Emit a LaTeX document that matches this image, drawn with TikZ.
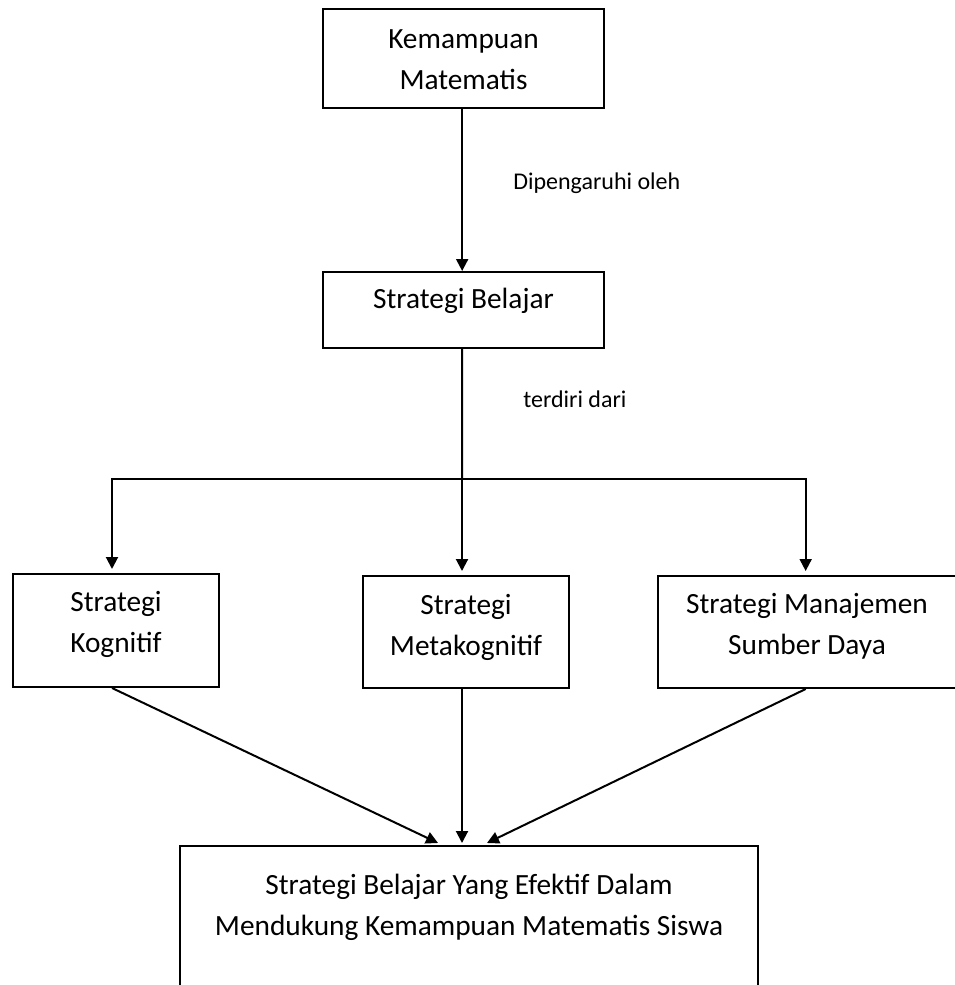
\documentclass[tikz,border=0pt]{standalone}
\usepackage{fontspec}
\setmainfont{Carlito}
\usetikzlibrary{arrows.meta,positioning}

\begin{document}
\begin{tikzpicture}[
    x=0.75pt, y=-0.75pt,
    box/.style={
        rectangle,
        draw=black,
        line width=1.5pt,
        fill=white,
        align=center,
        inner ysep=0pt,
        anchor=north,
        font=\fontsize{22}{30.75}\selectfont
    },
    note/.style={
        anchor=base west,
        inner sep=0pt,
        font=\fontsize{18}{22}\selectfont
    },
    arrow/.style={
        -{Triangle[width=9pt,length=9pt]},
        line width=1.5pt,
        draw=black
    }
]
    \clip (0,0) rectangle (955,985);

    % Nodes
    \node (kemampuan) [box, minimum width=210.75pt, text height=60pt, text depth=14.25pt]
        at (463.5,8) {Kemampuan\\Matematis};
    \node (belajar) [box, minimum width=210.75pt, text height=27pt, text depth=30pt]
        at (463.5,271) {Strategi Belajar};

    \node (kognitif) [box, minimum width=154.5pt, text height=58.5pt, text depth=26.25pt]
        at (116,573) {Strategi\\Kognitif};
    \node (meta) [box, minimum width=154.5pt, text height=59.25pt, text depth=24.75pt]
        at (466,575) {Strategi\\Metakognitif};
    \node (sumber) [box, minimum width=223.5pt, text height=58.5pt, text depth=25.5pt]
        at (807,575) {Strategi Manajemen\\Sumber Daya};

    \node (efektif) [box, minimum width=433.5pt, text height=66.75pt, text depth=49.5pt]
        at (469,845) {Strategi Belajar Yang Efektif Dalam\\Mendukung Kemampuan Matematis Siswa};

    % Labels
    \node (lbl1) [note] at (513,189) {Dipengaruhi oleh};
    \node (lbl2) [note] at (523,407) {terdiri dari};

    \coordinate (split) at (462,479);

    % Arrows
    \draw [arrow] ([xshift=-1pt]kemampuan.south) -- ([xshift=-1pt]belajar.north);
    \draw [line width=1.5pt] ([xshift=-1pt]belajar.south) -- (split);
    \draw [arrow, shorten >=3pt] (split) -| ([xshift=-3pt]kognitif.north);
    \draw [arrow, shorten >=3pt] (split) -- (split |- meta.north);
    \draw [arrow, shorten >=3pt] (split) -| ([xshift=-1pt]sumber.north);

    \draw [arrow] ([xshift=-3pt]kognitif.south) -- ([xshift=-23.25pt, yshift=1.5pt]efektif.north);
    \draw [arrow] ([xshift=-3pt]meta.south) -- ([xshift=-5.25pt, yshift=1.5pt]efektif.north);
    \draw [arrow] ([xshift=-1pt]sumber.south) -- ([xshift=13.5pt, yshift=1.5pt]efektif.north);

\end{tikzpicture}
\end{document}
